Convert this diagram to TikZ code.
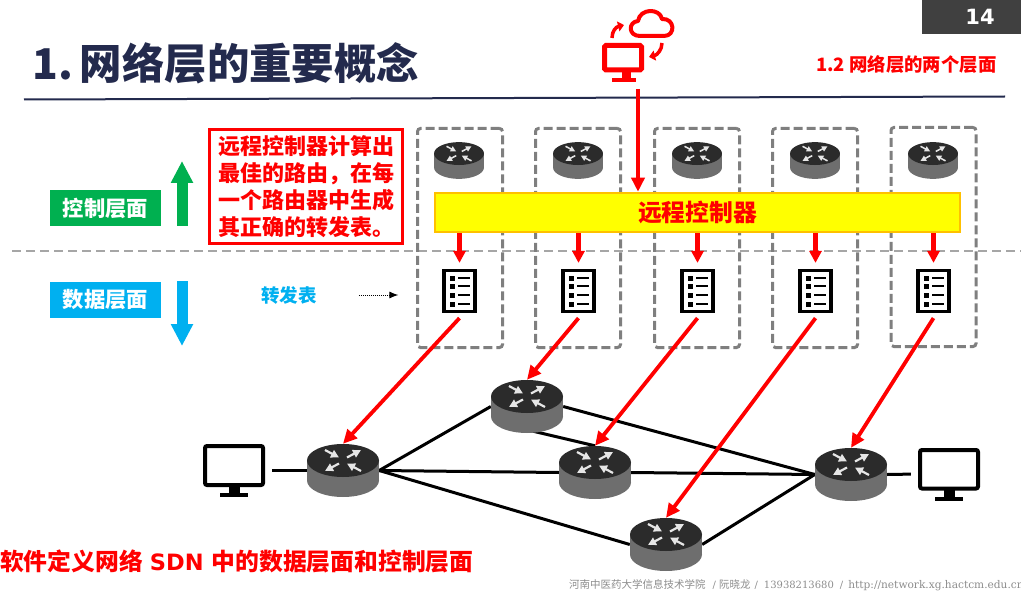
\documentclass[tikz,border=0pt]{standalone}
\usepackage{fontspec}
\setmainfont{Noto Sans CJK SC}
\newfontfamily\footlatin{DejaVu Serif}
\newfontfamily\widelatin{DejaVu Sans}
\usetikzlibrary{arrows.meta}
\definecolor{titlenavy}{HTML}{232A4D}
\definecolor{routertop}{HTML}{2B2B2B}
\definecolor{routerside}{HTML}{6E6E6E}
\definecolor{routermark}{HTML}{E6E6E6}
\definecolor{groupgray}{HTML}{7F7F7F}
\definecolor{planegreen}{HTML}{00B050}
\definecolor{planeblue}{HTML}{00B0F0}
\definecolor{baryellow}{HTML}{FFFF00}
\definecolor{barorange}{HTML}{FFC000}
\definecolor{pagegray}{HTML}{404040}
\newcommand{\px}[1]{\fontsize{#1}{#1}\selectfont\bfseries}
\newcommand{\routerbody}[3]{
	\begin{scope}[shift={(#1,#2)},scale=#3]
		\fill[routerside] (0,10) ellipse [x radius=36,y radius=16.5];
		\fill[routerside] (-36,-10) rectangle (36,10);
		\fill[routertop] (0,-10) ellipse [x radius=36,y radius=16.5];
		\draw[routermark,line width=#3*2.2pt,-{Triangle[length=#3*8pt,width=#3*8pt]}] (-18,-20.5)--(-4,-13);
		\draw[routermark,line width=#3*2.2pt,-{Triangle[length=#3*8pt,width=#3*8pt]}] (4,-13)--(18,-20.5);
		\draw[routermark,line width=#3*2.2pt,-{Triangle[length=#3*8pt,width=#3*8pt]}] (-4,-7)--(-18,0.5);
		\draw[routermark,line width=#3*2.2pt,-{Triangle[length=#3*8pt,width=#3*8pt]}] (18,0.5)--(4,-7);
	\end{scope}
}
\newcommand{\docrows}[2]{
	\foreach \dy in {-13,-5,4,13}{
		\fill (#1-9.5,#2+\dy-2.5) rectangle (#1-4.5,#2+\dy+2.5);
		\fill (#1-1.5,#2+\dy-1.3) rectangle (#1+10.5,#2+\dy+1.3);
	}
}
\newcommand{\hoststand}[2]{
	\fill (#1-5.5,#2+16) rectangle (#1+5.5,#2+23);
	\fill (#1-14,#2+22.5) rectangle (#1+14,#2+26.5);
}
\tikzset{
	blacklink/.style={line width=3pt,black},
	redlink/.style={line width=3.8pt,red,-{Triangle[length=14pt,width=13pt]}},
	reddown/.style={line width=4.5pt,red,-{Triangle[length=12pt,width=12pt]}},
	bigrouter/.style={minimum width=72pt,minimum height=53pt,inner sep=0pt},
	smallrouter/.style={minimum width=50pt,minimum height=37pt,inner sep=0pt},
	hostbox/.style={minimum width=62pt,minimum height=53pt,inner sep=0pt},
	groupbox/.style={draw=groupgray,line width=3pt,dash pattern=on 9pt off 4pt,rounded corners=3pt,minimum width=85pt,minimum height=219pt,inner sep=0pt},
	docbox/.style={draw=black,fill=white,line width=3.2pt,minimum width=31pt,minimum height=41pt,inner sep=0pt},
	planelabel/.style={minimum width=111pt,minimum height=36pt,inner sep=0pt,text=white},
}
\begin{document}
\begin{tikzpicture}[x=1pt,y=-1pt]
	\useasboundingbox (0,0) rectangle (1021,591);
	\node[fill=pagegray,minimum width=99pt,minimum height=34pt,inner sep=0pt] (pagebox) at (971.5,17) {};
	\node[text=white,inner sep=0pt] (pagenum) at (980,17) {\px{21}\widelatin 14};
	\node[anchor=west,inner sep=0pt,text=titlenavy] (title) at (32,63) {\px{42.4}1.\hspace{7pt}网络层的重要概念};
	\node[anchor=west,inner sep=0pt,text=red] (subtitle) at (816,64) {\px{18.4}1.2 网络层的两个层面};
	\coordinate (ruleleft) at (24,99.5);
	\coordinate (ruleright) at (1005,96.5);
	\draw[titlenavy,line width=2pt] (ruleleft)--(ruleright);
	\coordinate (planeleft) at (12,251);
	\coordinate (planeright) at (1021,251);
	\draw[black!35,line width=1.8pt,dash pattern=on 9pt off 5pt] (planeleft)--(planeright);
	\node[groupbox] (group1) at (460,238) {};
	\node[groupbox] (group2) at (578,238) {};
	\node[groupbox] (group3) at (697,238) {};
	\node[groupbox] (group4) at (815,238) {};
	\node[groupbox] (group5) at (933.5,237) {};
	\foreach \x/\n in {459/1,578/2,697/3,815/4,933/5}{
		\node[smallrouter] (ctrl\n) at (\x,160.5) {};
		\routerbody{\x}{160.5}{0.694}
		\node[docbox] (doc\n) at (\x+0.5,291) {};
		\docrows{\x+0.5}{291}
	}
	\node[fill=baryellow,draw=barorange,line width=2.5pt,minimum width=525pt,minimum height=39pt,inner sep=0pt,text=red] (bar) at (697.5,212.5) {\px{23.8}远程控制器};
	\coordinate (hosttop) at (638,89);
	\draw[red,line width=4.5pt,-{Triangle[length=14pt,width=13pt]}] (hosttop)--(hosttop |- bar.north);
	\foreach \n in {1,...,5}{
		\draw[reddown] (bar.south -| doc\n)--([yshift=6pt]doc\n.north);
	}
	\draw[red,line width=5pt,rounded corners=1.5pt] (604.5,45.5) rectangle (641.5,70);
	\fill[red] (622,70) rectangle (631,79);
	\fill[red] (612,78) rectangle (636,82);
	\draw[red,line width=4pt,line join=round] (640,36) .. controls (628,36) and (628,22) .. (638,21) .. controls (640,8) and (660,8) .. (662,19) .. controls (675,18) and (676,36) .. (664,36) -- cycle;
	\draw[red,line width=3.5pt,-{Triangle[length=6pt,width=10pt]}] (612,38) .. controls (612,31) and (616,27) .. (624,25);
	\draw[red,line width=3.5pt,-{Triangle[length=6pt,width=10pt]}] (662,43) .. controls (662,50) and (657,55) .. (649,57);
	\node[draw=red,line width=3pt,minimum width=193pt,minimum height=114pt,inner sep=0pt,text=red,align=left,font=\fontsize{22}{27}\selectfont\bfseries] (note) at (306,186.5) {远程控制器计算出\\最佳的路由，在每\\一个路由器中生成\\其正确的转发表。};
	\node[planelabel,fill=planegreen] (ctrlplane) at (105.5,208) {\px{21.3}控制层面};
	\node[planelabel,fill=planeblue] (dataplane) at (105.5,299.5) {\px{21.3}数据层面};
	\coordinate (greenfoot) at (182,226);
	\coordinate (greentip) at (182,161);
	\coordinate (bluefoot) at (182,281);
	\coordinate (bluetip) at (182,346);
	\draw[planegreen,line width=11pt,-{Triangle[length=22pt,width=21pt]}] (greenfoot)--(greentip);
	\draw[planeblue,line width=11pt,-{Triangle[length=22pt,width=21pt]}] (bluefoot)--(bluetip);
	\node[text=planeblue,inner sep=0pt] (fwdlabel) at (289,295) {\px{18.5}转发表};
	\draw[densely dotted,line width=1pt,shorten <=42pt,shorten >=44pt,-{Latex[length=9pt,width=7pt]}] (fwdlabel.east)--(doc1.west |- fwdlabel.east);
	\node[bigrouter] (ra) at (343,470.5) {};
	\node[bigrouter] (rb) at (527,406.5) {};
	\node[bigrouter] (rc) at (595,472.5) {};
	\node[bigrouter] (rd) at (851,474.5) {};
	\node[bigrouter] (re) at (666,544.5) {};
	\node[hostbox] (hostl) at (234,470.5) {};
	\node[hostbox] (hostr) at (949,474) {};
	\draw[blacklink] (ra.east)--(rb.west);
	\draw[blacklink] (ra.east)--(rc.west);
	\draw[blacklink] (ra.east)--(re.west);
	\draw[blacklink] (rb.east)--(rd.west);
	\draw[blacklink] ([xshift=6pt,yshift=2pt]rb.south)--(rc.north);
	\draw[blacklink] (rc.east)--(rd.west);
	\draw[blacklink] (re.east)--(rd.west);
	\draw[blacklink,shorten <=7pt] (hostl.east)--(ra.west);
	\draw[blacklink,shorten >=7pt] (rd.east)--(hostr.west);
	\routerbody{343}{470.5}{1}
	\routerbody{527}{406.5}{1}
	\routerbody{595}{472.5}{1}
	\routerbody{851}{474.5}{1}
	\routerbody{666}{544.5}{1}
	\draw[line width=4pt,rounded corners=2pt] (205,446) rectangle (263,485);
	\hoststand{234}{470.5}
	\draw[line width=4pt,rounded corners=2pt] (920,450) rectangle (978,488.5);
	\hoststand{949}{474}
	\draw[redlink] ([yshift=-5pt]doc1.south)--(ra.north);
	\draw[redlink] ([yshift=-5pt]doc2.south)--(rb.north);
	\draw[redlink] ([yshift=-5pt]doc3.south)--(rc.north);
	\draw[redlink] ([yshift=-5pt]doc4.south)--(re.north);
	\draw[redlink] ([yshift=-5pt]doc5.south)--(rd.north);
	\node[anchor=west,inner sep=0pt,text=red] (caption) at (0,561) {\px{23.8}软件定义网络\hspace{7pt}{\fontsize{22.5}{24}\selectfont\widelatin SDN}\hspace{8pt}中的数据层面和控制层面};
	\node[anchor=west,inner sep=0pt,text=black!45] (footer) at (569,585) {\fontsize{10.5}{11}\selectfont 河南中医药大学信息技术学院\hspace{7pt}{\footlatin\fontsize{10}{11}\selectfont /}\hspace{3pt}阮晓龙\hspace{4pt}{\footlatin\fontsize{10}{11}\selectfont /\hspace{6pt}13938213680\hspace{6pt}/\hspace{5pt}\fontsize{10.6}{11}\selectfont http://network.xg.hactcm.edu.cn}};
\end{tikzpicture}
\end{document}
